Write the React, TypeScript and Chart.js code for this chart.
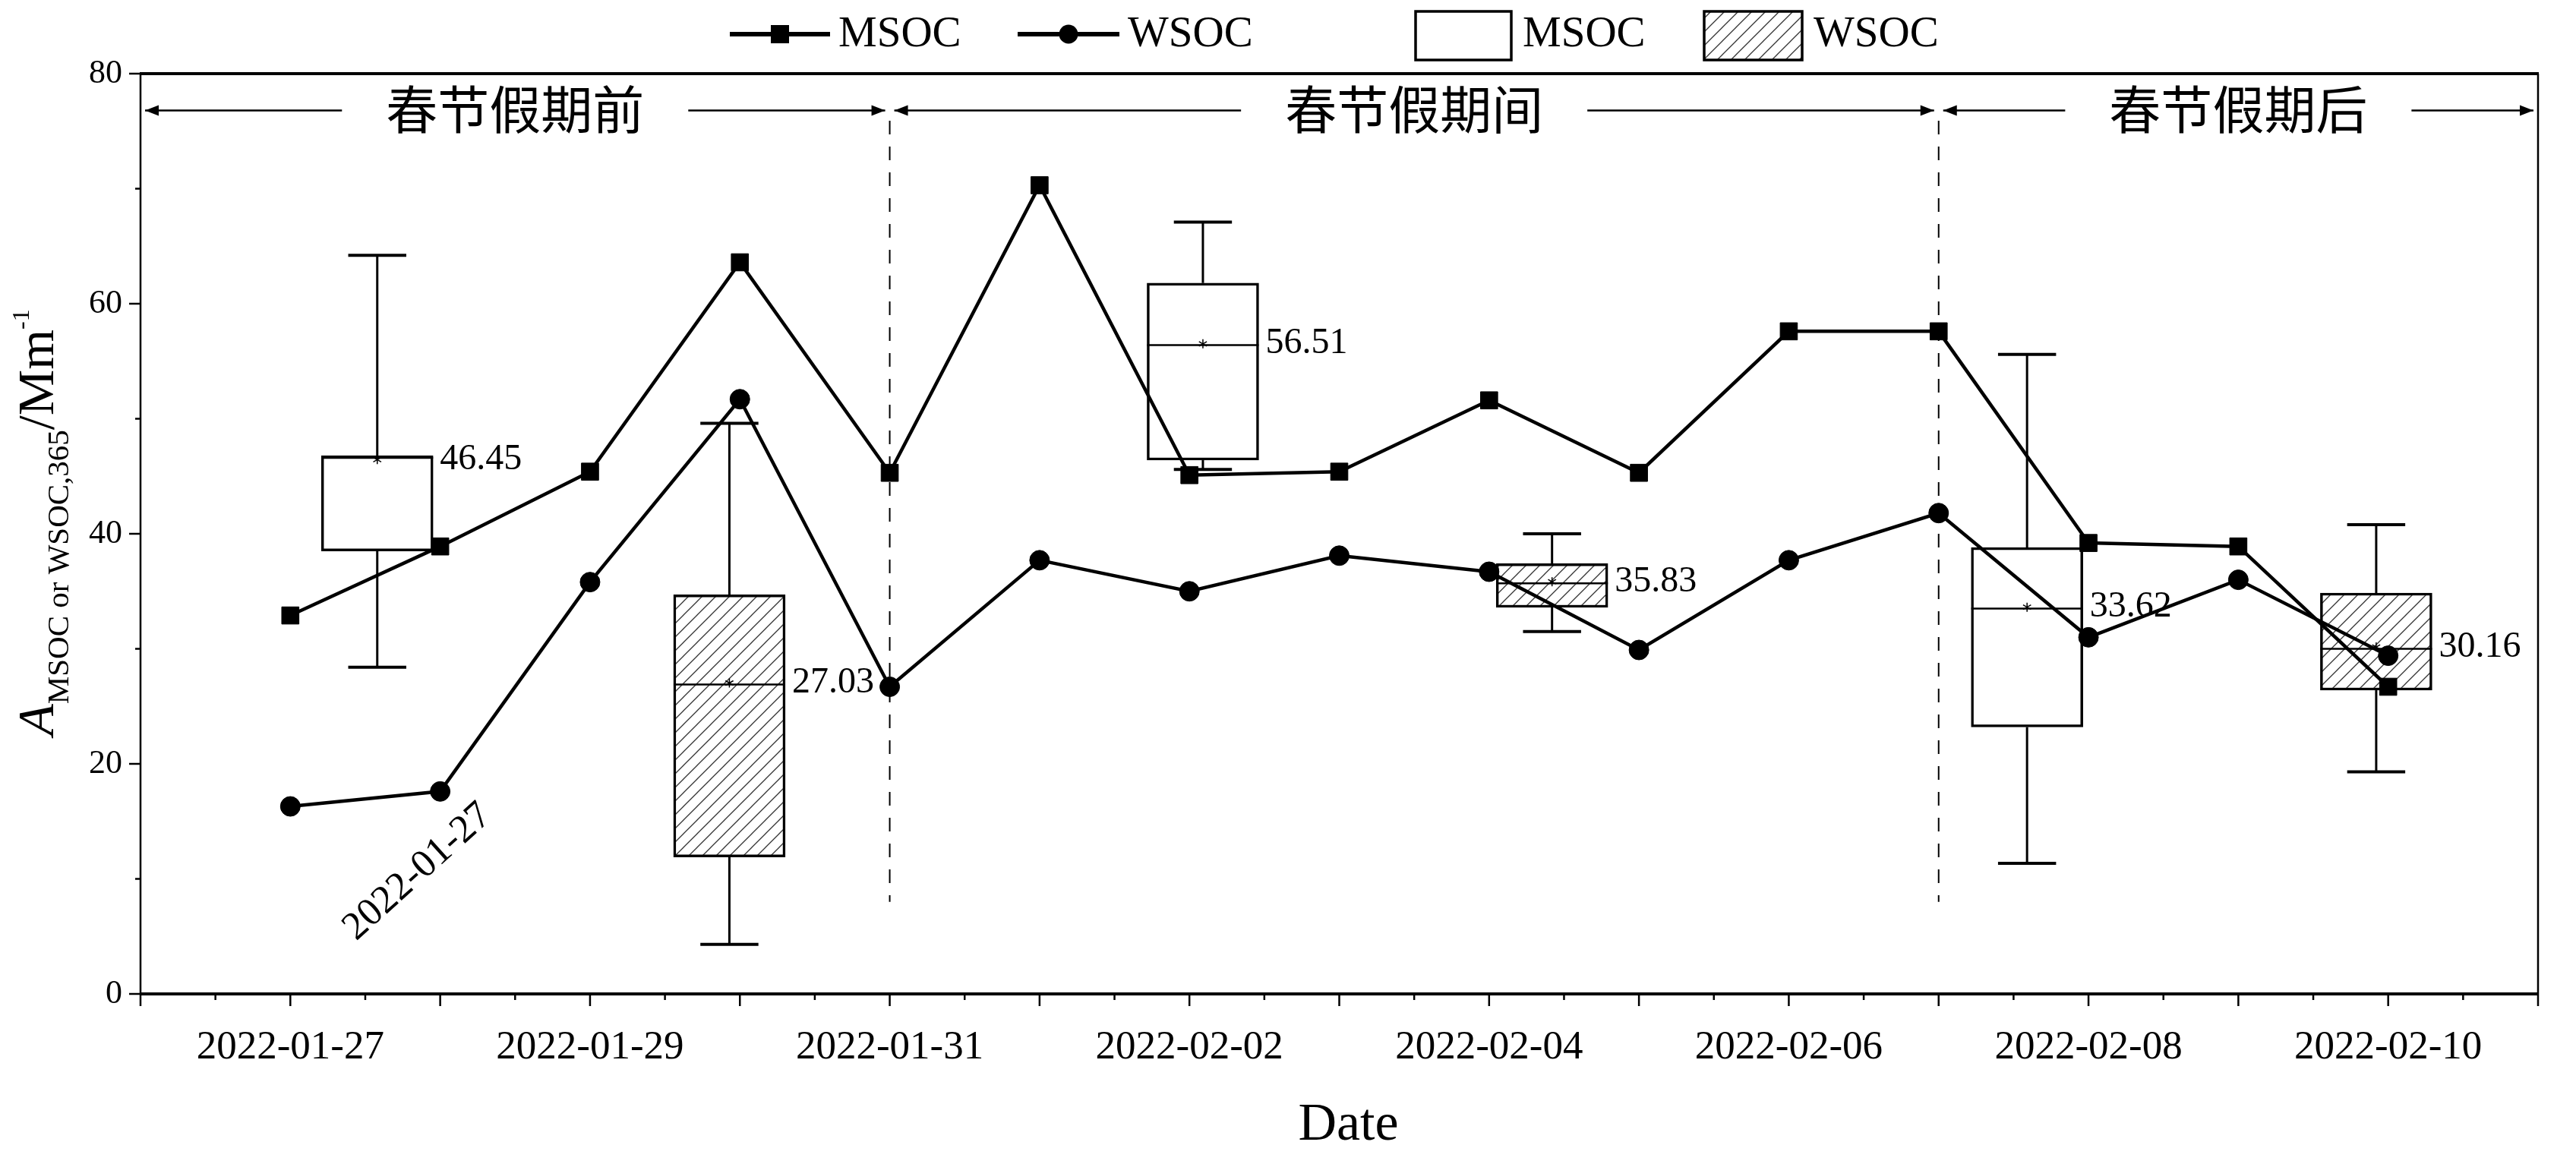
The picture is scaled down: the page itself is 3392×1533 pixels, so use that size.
import { useEffect, useRef } from "react";
import { Chart, registerables } from "chart.js";

Chart.register(...registerables);

// x axis is measured in days since 2022-01-26
const dates = [
  "2022-01-27", "2022-01-28", "2022-01-29", "2022-01-30", "2022-01-31",
  "2022-02-01", "2022-02-02", "2022-02-03", "2022-02-04", "2022-02-05",
  "2022-02-06", "2022-02-07", "2022-02-08", "2022-02-09", "2022-02-10",
];
const dateDays = [1, 2, 3, 4, 5, 6, 7, 8, 9, 10, 11, 12, 13, 14, 15];
const msocDaily = [32.9, 38.9, 45.4, 63.6, 45.3, 70.3, 45.1, 45.4, 51.6, 45.3, 57.6, 57.6, 39.2, 38.9, 26.7];
const wsocDaily = [16.3, 17.6, 35.8, 51.7, 26.7, 37.7, 35.0, 38.1, 36.7, 29.9, 37.7, 41.8, 31.0, 36.0, 29.4];

const tickLabels = ["2022-01-27", "2022-01-29", "2022-01-31", "2022-02-02", "2022-02-04", "2022-02-06", "2022-02-08", "2022-02-10"];
const yTickLabels = ["0", "20", "40", "60", "80"];

// holiday periods
const periodNames = ["春节假期前", "春节假期间", "春节假期后"];
const periodEdges = [0, 5, 12, 16];

// box plots per period
const msocBoxDay = [1.58, 7.09, 12.59];
const msocMin = [28.4, 45.6, 11.35];
const msocQ1 = [38.5, 46.4, 23.2];
const msocMedian = [46.6, 56.4, 33.5];
const msocQ3 = [46.8, 61.8, 38.8];
const msocMax = [64.2, 67.1, 55.6];
const msocMean = [46.45, 56.51, 33.62];

const wsocBoxDay = [3.93, 9.42, 14.92];
const wsocMin = [4.3, 31.5, 19.3];
const wsocQ1 = [11.9, 33.6, 26.4];
const wsocMedian = [26.9, 35.7, 30.0];
const wsocQ3 = [34.7, 37.4, 34.85];
const wsocMax = [49.6, 40.0, 40.8];
const wsocMean = [27.03, 35.83, 30.16];

const noteText = dates[0];

const SERIF = '"Liberation Serif", "Times New Roman", serif';
const CJK = '"Noto Sans CJK SC", sans-serif';

function makeHatch(ctx: CanvasRenderingContext2D) {
  const s = 18;
  const c = document.createElement("canvas");
  c.width = s;
  c.height = s;
  const g = c.getContext("2d")!;
  g.fillStyle = "#fff";
  g.fillRect(0, 0, s, s);
  g.strokeStyle = "#333";
  g.lineWidth = 1.3;
  g.beginPath();
  g.moveTo(0, s);
  g.lineTo(s, 0);
  g.moveTo(-s / 2, s / 2);
  g.lineTo(s / 2, -s / 2);
  g.moveTo(s / 2, s * 1.5);
  g.lineTo(s * 1.5, s / 2);
  g.stroke();
  return ctx.createPattern(c, "repeat")!;
}

function line(ctx: CanvasRenderingContext2D, x1: number, y1: number, x2: number, y2: number) {
  ctx.beginPath();
  ctx.moveTo(x1, y1);
  ctx.lineTo(x2, y2);
  ctx.stroke();
}

function arrowHead(ctx: CanvasRenderingContext2D, tipX: number, y: number, dir: number) {
  ctx.beginPath();
  ctx.moveTo(tipX, y);
  ctx.lineTo(tipX - dir * 18, y - 7);
  ctx.lineTo(tipX - dir * 18, y + 7);
  ctx.closePath();
  ctx.fill();
}

function star(ctx: CanvasRenderingContext2D, x: number, y: number) {
  ctx.save();
  ctx.lineWidth = 1.5;
  for (let k = 0; k < 3; k++) {
    const a = (k * Math.PI) / 3 + Math.PI / 2;
    line(ctx, x - 6 * Math.cos(a), y - 6 * Math.sin(a), x + 6 * Math.cos(a), y + 6 * Math.sin(a));
  }
  ctx.restore();
}

const overlay = {
  id: "overlay",
  beforeDatasetsDraw(chart: any) {
    const { ctx, scales } = chart;
    const { x, y } = scales;
    ctx.save();
    ctx.strokeStyle = "#000";
    ctx.lineWidth = 2;
    ctx.setLineDash([18, 16]);
    for (const d of [periodEdges[1], periodEdges[2]]) {
      const px = x.getPixelForValue(d);
      line(ctx, px, y.getPixelForValue(75.9), px, y.getPixelForValue(8.0));
    }
    ctx.restore();
  },
  afterDatasetDraw(chart: any, args: any) {
    const ds = chart.data.datasets[args.index];
    if (!ds.stats) return;
    const { ctx, scales } = chart;
    const y = scales.y;
    const st = ds.stats;
    ctx.save();
    ctx.strokeStyle = "#000";
    ctx.fillStyle = "#000";
    args.meta.data.forEach((bar: any, i: number) => {
      const cx = bar.x;
      const half = bar.width / 2;
      const cap = bar.width * 0.26;
      ctx.lineWidth = 3;
      line(ctx, cx, y.getPixelForValue(st.q3[i]), cx, y.getPixelForValue(st.max[i]));
      line(ctx, cx, y.getPixelForValue(st.q1[i]), cx, y.getPixelForValue(st.min[i]));
      ctx.lineWidth = 4;
      line(ctx, cx - cap, y.getPixelForValue(st.max[i]), cx + cap, y.getPixelForValue(st.max[i]));
      line(ctx, cx - cap, y.getPixelForValue(st.min[i]), cx + cap, y.getPixelForValue(st.min[i]));
      ctx.lineWidth = 2.5;
      const my = y.getPixelForValue(st.median[i]);
      line(ctx, cx - half, my, cx + half, my);
      const mean = y.getPixelForValue(st.mean[i]);
      star(ctx, cx, mean);
      ctx.font = `48px ${SERIF}`;
      ctx.textAlign = "left";
      ctx.textBaseline = "middle";
      ctx.fillText(st.mean[i].toFixed(2), cx + half + 9, mean);
    });
    ctx.restore();
  },
  afterDraw(chart: any) {
    const { ctx, scales, chartArea } = chart;
    const { x, y } = scales;
    const { left, right, top, bottom } = chartArea;
    ctx.save();
    ctx.strokeStyle = "#000";
    ctx.fillStyle = "#000";

    // frame
    ctx.lineWidth = 2.5;
    line(ctx, left, top, left, bottom);
    line(ctx, right, top, right, bottom);
    ctx.lineWidth = 4;
    line(ctx, left - 1, top, right + 1, top);
    line(ctx, left - 1, bottom, right + 1, bottom);

    // x ticks: every day, minor at half days
    ctx.lineWidth = 2.5;
    for (let d = 0; d <= 16; d += 0.5) {
      const px = x.getPixelForValue(d);
      const len = Number.isInteger(d) ? 16 : 8;
      line(ctx, px, bottom, px, bottom + len);
    }
    // y ticks
    for (let v = 0; v <= 80; v += 10) {
      const py = y.getPixelForValue(v);
      const len = v % 20 === 0 ? 15 : 7;
      line(ctx, left - len, py, left, py);
    }

    // period arrows
    const ay = y.getPixelForValue(76.8);
    ctx.font = `68px ${CJK}`;
    ctx.textAlign = "center";
    ctx.textBaseline = "middle";
    ctx.lineWidth = 2.5;
    periodNames.forEach((name, i) => {
      const x0 = x.getPixelForValue(periodEdges[i]) + 6;
      const x1 = x.getPixelForValue(periodEdges[i + 1]) - 6;
      const cx = (x0 + x1) / 2;
      const w = ctx.measureText(name).width;
      line(ctx, x0, ay, cx - w / 2 - 58, ay);
      line(ctx, cx + w / 2 + 58, ay, x1, ay);
      arrowHead(ctx, x0, ay, -1);
      arrowHead(ctx, x1, ay, 1);
      ctx.fillText(name, cx, ay - 1);
    });

    // rotated note
    ctx.save();
    ctx.translate(x.getPixelForValue(1.85), y.getPixelForValue(10.6));
    ctx.rotate((-42 * Math.PI) / 180);
    ctx.font = `52px ${SERIF}`;
    ctx.fillText(noteText, 0, 0);
    ctx.restore();

    // x title
    ctx.font = `70px ${SERIF}`;
    ctx.textAlign = "center";
    ctx.textBaseline = "middle";
    ctx.fillText("Date", (left + right) / 2 + 12, 1483);

    // y title with sub/superscript
    const parts = [
      { t: "A", f: `italic 68px ${SERIF}`, dy: 0 },
      { t: "MSOC or WSOC,365", f: `41px ${SERIF}`, dy: 20 },
      { t: "/Mm", f: `68px ${SERIF}`, dy: 0 },
      { t: "-1", f: `32px ${SERIF}`, dy: -32 },
    ];
    let total = 0;
    const widths = parts.map((p) => {
      ctx.font = p.f;
      const w = ctx.measureText(p.t).width;
      total += w;
      return w;
    });
    ctx.save();
    ctx.translate(70, 688);
    ctx.rotate(-Math.PI / 2);
    ctx.textAlign = "left";
    ctx.textBaseline = "alphabetic";
    let cur = -total / 2;
    parts.forEach((p, i) => {
      ctx.font = p.f;
      ctx.fillText(p.t, cur, p.dy);
      cur += widths[i];
    });
    ctx.restore();

    // legend
    const ly = 45;
    ctx.font = `57px ${SERIF}`;
    ctx.textAlign = "left";
    ctx.textBaseline = "middle";
    ctx.lineWidth = 6;
    line(ctx, 961, ly, 1093, ly);
    ctx.fillRect(1027 - 12, ly - 12, 24, 24);
    ctx.fillText("MSOC", 1104, ly + 1);
    line(ctx, 1340, ly, 1474, ly);
    ctx.beginPath();
    ctx.arc(1407, ly, 12.5, 0, Math.PI * 2);
    ctx.fill();
    ctx.fillText("WSOC", 1485, ly + 1);
    ctx.lineWidth = 3.5;
    ctx.fillStyle = "#fff";
    ctx.fillRect(1864, 15, 126, 64);
    ctx.strokeRect(1864, 15, 126, 64);
    ctx.fillStyle = makeHatch(ctx);
    ctx.fillRect(2244, 15, 129, 64);
    ctx.strokeRect(2244, 15, 129, 64);
    ctx.fillStyle = "#000";
    ctx.fillText("MSOC", 2005, ly + 1);
    ctx.fillText("WSOC", 2388, ly + 1);

    ctx.restore();
  },
};

export default function App() {
  const canvasRef = useRef<HTMLCanvasElement>(null);
  const chartRef = useRef<Chart | null>(null);

  useEffect(() => {
    if (!canvasRef.current) return;
    const ctx = canvasRef.current.getContext("2d");
    if (!ctx) return;
    if (chartRef.current) chartRef.current.destroy();

    const hatch = makeHatch(ctx);

    chartRef.current = new Chart(ctx, {
      type: "line",
      data: {
        datasets: [
          {
            type: "line",
            label: "MSOC",
            data: dateDays.map((d, i) => ({ x: d, y: msocDaily[i] })),
            borderColor: "#000",
            borderWidth: 4.5,
            pointStyle: "rect",
            pointRadius: 16,
            pointBackgroundColor: "#000",
            pointBorderColor: "#000",
            pointBorderWidth: 1,
            tension: 0,
            order: 1,
          },
          {
            type: "line",
            label: "WSOC",
            data: dateDays.map((d, i) => ({ x: d, y: wsocDaily[i] })),
            borderColor: "#000",
            borderWidth: 4.5,
            pointStyle: "circle",
            pointRadius: 13,
            pointBackgroundColor: "#000",
            pointBorderColor: "#000",
            pointBorderWidth: 1,
            tension: 0,
            order: 1,
          },
          {
            type: "bar",
            label: "MSOC box",
            data: msocBoxDay.map((d, i) => ({ x: d, y: [msocQ1[i], msocQ3[i]] })),
            backgroundColor: "#fff",
            borderColor: "#000",
            borderWidth: 3.5,
            borderSkipped: false,
            grouped: false,
            barThickness: 147,
            maxBarThickness: 147,
            order: 2,
            stats: { min: msocMin, q1: msocQ1, median: msocMedian, q3: msocQ3, max: msocMax, mean: msocMean },
          } as any,
          {
            type: "bar",
            label: "WSOC box",
            data: wsocBoxDay.map((d, i) => ({ x: d, y: [wsocQ1[i], wsocQ3[i]] })),
            backgroundColor: hatch,
            borderColor: "#000",
            borderWidth: 3.5,
            borderSkipped: false,
            grouped: false,
            barThickness: 147,
            maxBarThickness: 147,
            order: 2,
            stats: { min: wsocMin, q1: wsocQ1, median: wsocMedian, q3: wsocQ3, max: wsocMax, mean: wsocMean },
          } as any,
        ],
      },
      options: {
        responsive: true,
        maintainAspectRatio: false,
        animation: false,
        events: [],
        layout: { padding: { top: 97, right: 50, left: 0, bottom: 0 } },
        plugins: {
          legend: { display: false },
          tooltip: { enabled: false },
        },
        scales: {
          x: {
            type: "linear",
            min: 0,
            max: 16,
            offset: false,
            grid: { display: false, drawTicks: false },
            border: { display: false },
            ticks: {
              stepSize: 1,
              autoSkip: false,
              maxRotation: 0,
              minRotation: 0,
              padding: 39,
              color: "#000",
              font: { family: SERIF, size: 53 },
              callback: (v: any) => {
                const n = Number(v);
                return Number.isInteger(n) && n % 2 === 1 ? tickLabels[(n - 1) / 2] : "";
              },
            },
            afterFit: (s: any) => {
              s.height = 224;
            },
          },
          y: {
            type: "linear",
            min: 0,
            max: 80,
            stacked: false,
            grid: { display: false, drawTicks: false },
            border: { display: false },
            ticks: {
              stepSize: 10,
              padding: 24,
              color: "#000",
              font: { family: SERIF, size: 44 },
              callback: (v: any) => {
                const n = Number(v);
                return n % 20 === 0 ? yTickLabels[n / 20] : "";
              },
            },
            afterFit: (s: any) => {
              s.width = 185;
            },
          },
        },
      },
      plugins: [overlay],
    });

    return () => {
      if (chartRef.current) {
        chartRef.current.destroy();
        chartRef.current = null;
      }
    };
  }, []);

  return (
    <div style={{ position: "fixed", left: 0, top: 0, width: "3392px", height: "1533px", background: "#fff" }}>
      <canvas ref={canvasRef}></canvas>
    </div>
  );
}
